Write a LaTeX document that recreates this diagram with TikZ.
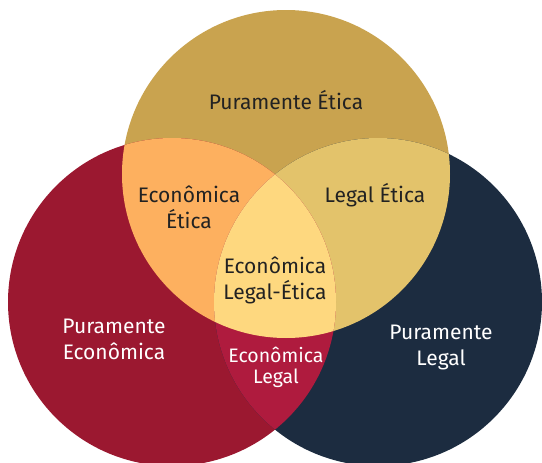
\documentclass[tikz,border=0pt]{standalone}
\usepackage{fontspec}
\setmainfont{Fira Sans}
\definecolor{cgold}{HTML}{C9A34F}
\definecolor{ccrimson}{HTML}{9B1830}
\definecolor{cnavy}{HTML}{1C2C40}
\definecolor{corange}{HTML}{FDB05F}
\definecolor{clegalet}{HTML}{E3C36B}
\definecolor{ccenter}{HTML}{FED87F}
\definecolor{cecleg}{HTML}{AF1B3E}
\definecolor{ctext}{HTML}{222222}
\begin{document}
\begin{tikzpicture}[x=1pt,y=-1pt,
  lbl/.style={font=\fontsize{21}{25.5}\selectfont, align=center, text=ctext, inner sep=0pt},
  wlbl/.style={lbl, text=white},
  slbl/.style={font=\fontsize{19.5}{21.5}\selectfont, align=center, text=white, inner sep=0pt}]
\useasboundingbox (0,0) rectangle (542,463);
\coordinate (T) at (286,174);
\coordinate (L) at (172,302);
\coordinate (R) at (378,302);
\fill[cgold] (T) circle[radius=164pt];
\fill[ccrimson] (L) circle[radius=164pt];
\fill[cnavy] (R) circle[radius=164pt];
\begin{scope}
  \clip (T) circle[radius=164pt];
  \fill[corange] (L) circle[radius=164pt];
\end{scope}
\begin{scope}
  \clip (T) circle[radius=164pt];
  \fill[clegalet] (R) circle[radius=164pt];
\end{scope}
\begin{scope}
  \clip (L) circle[radius=164pt];
  \fill[cecleg] (R) circle[radius=164pt];
\end{scope}
\begin{scope}
  \clip (T) circle[radius=164pt];
  \clip (L) circle[radius=164pt];
  \fill[ccenter] (R) circle[radius=164pt];
\end{scope}
\node[lbl] (pe) at (286,100) {Puramente Ética};
\node[lbl] (ee) at (189,207.5) {Econômica\\Ética};
\node[lbl] (le) at (375,195) {Legal Ética};
\node[lbl] (ele) at (275,280.5) {Econômica\\Legal-Ética};
\node[wlbl] (pec) at (114,339.5) {Puramente\\Econômica};
\node[slbl] (el) at (276,367.5) {Econômica\\Legal};
\node[wlbl] (pl) at (441,347.5) {Puramente\\Legal};
\end{tikzpicture}
\end{document}
